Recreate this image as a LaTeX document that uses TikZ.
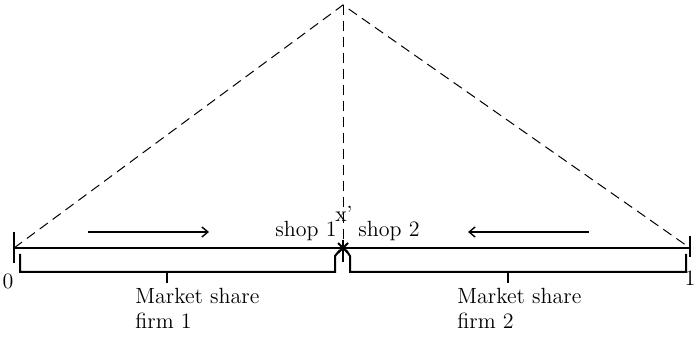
\documentclass[tikz,border=0pt]{standalone}
\usepackage{tikz}
\usetikzlibrary{arrows.meta,positioning}

\begin{document}
\begin{tikzpicture}[
x=0.5pt, y=-0.5pt,
axis/.style={line width=1pt},
guide/.style={dash pattern=on 5pt off 3pt, line width=0.5pt},
arr/.style={-{Straight Barb[length=3pt,width=5pt]}, line width=0.7pt},
lbl/.style={font=\fontsize{11}{12.5}\selectfont, inner sep=0pt},
share/.style={lbl, align=left, anchor=north west}
]
\useasboundingbox (0,0) rectangle (696,341);

\coordinate (zero) at (14,248);
\coordinate (one) at (690,248);
\coordinate (apex) at (343,5);
\coordinate (xmid) at (343,248);

% dashed roof
\draw[guide] (zero) -- (apex) -- (one);
\draw[guide] (apex) -- (xmid);

% the line
\draw[axis] (zero) -- (one);
\draw[axis] (zero) ++(0,-16) -- ++(0,31);
\draw[axis] (one) ++(0,-12) -- ++(0,21);
\draw[axis] (xmid) ++(0,-8) -- ++(0,22);
\draw[axis] (xmid) ++(-5,-5) -- ++(10,10);
\draw[axis] (xmid) ++(5,-5) -- ++(-10,10);
\fill (xmid) circle (2.5);

% brackets
\draw[axis] (20,254) -- (20,272) -- (335,272) -- (335,256) -- (340,250);
\draw[axis] (346,250) -- (350,256) -- (350,272) -- (686,272) -- (686,254);
\draw[axis] (167,272) -- (167,283);
\draw[axis] (508,272) -- (508,283);

% arrows
\coordinate (left start) at (88,232);
\coordinate (left end) at (209,232);
\coordinate (right start) at (589,232);
\coordinate (right end) at (468,232);
\draw[arr] (left start) -- (left end);
\draw[arr] (right start) -- (right end);

% labels
\node[lbl, anchor=base east] (shop1) at (337,237) {shop 1};
\node[lbl, anchor=base west] (shop2) at (358,237) {shop 2};
\node[lbl, anchor=base] (xprime) at (344,222) {x'};
\node[lbl] (lab0) at (8,281) {0};
\node[lbl] (lab1) at (690,278) {1};
\node[share] (share1) at (135,288) {Market share\\firm 1};
\node[share] (share2) at (457,288) {Market share\\firm 2};
\end{tikzpicture}
\end{document}
